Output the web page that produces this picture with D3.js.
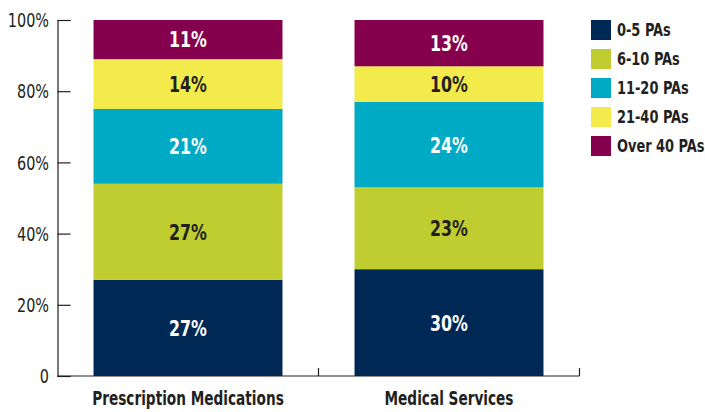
<!DOCTYPE html>
<html>
<head>
<meta charset="utf-8">
<script src="https://cdn.jsdelivr.net/npm/d3@7"></script>
<style>
  body { margin: 0; background: #fff; }
  text { font-family: "DejaVu Sans Condensed", "DejaVu Sans", sans-serif; }
</style>
</head>
<body>
<div id="chart"></div>
<script>
const categories = ['Prescription Medications', 'Medical Services']
const seriesNames = ['0-5 PAs', '6-10 PAs', '11-20 PAs', '21-40 PAs', 'Over 40 PAs']
const prescription = [27, 27, 21, 14, 11]
const medical = [30, 23, 24, 10, 13]
const yTicks = [0, 20, 40, 60, 80, 100]

const colors = ['#002855', '#bfcd31', '#00a9c4', '#f3eb4b', '#85004d']
const labelColors = ['#fff', '#231f20', '#fff', '#231f20', '#fff']

const width = 705
const height = 412
// squeeze text horizontally to mimic a condensed face
const squeeze = 0.8

const svg = d3
  .select('#chart')
  .append('svg')
  .attr('width', width)
  .attr('height', height)

const xScale = d3
  .scaleBand()
  .domain(categories)
  .range([57.5, 579.5])
  .paddingInner(0.276)
  .paddingOuter(0.138)

const yScale = d3
  .scaleLinear()
  .domain([0, 100])
  .range([376, 20])

const rows = categories.map((c, i) => {
  const row = { category: c }
  const vals = i === 0 ? prescription : medical
  seriesNames.forEach((s, j) => { row[s] = vals[j] })
  return row
})

const stacked = d3.stack().keys(seriesNames)(rows)

const layers = svg
  .selectAll('.layer')
  .data(stacked)
  .enter()
  .append('g')
  .attr('class', 'layer')
  .attr('fill', (d, i) => colors[i])

layers
  .selectAll('rect')
  .data(d => d)
  .enter()
  .append('rect')
  .attr('x', d => xScale(d.data.category))
  .attr('y', d => yScale(d[1]))
  .attr('width', xScale.bandwidth())
  .attr('height', d => yScale(d[0]) - yScale(d[1]))

layers.each(function (layer, i) {
  d3.select(this)
    .selectAll('text')
    .data(layer)
    .enter()
    .append('text')
    .attr('transform', 'scale(' + squeeze + ',1)')
    .attr('x', d => (xScale(d.data.category) + xScale.bandwidth() / 2) / squeeze)
    .attr('y', d => (yScale(d[0]) + yScale(d[1])) / 2)
    .attr('dy', '0.36em')
    .attr('text-anchor', 'middle')
    .attr('font-size', 22)
    .attr('font-weight', 'bold')
    .attr('fill', labelColors[i])
    .text(d => (d[1] - d[0]) + '%')
})

// y axis, ticks point inward
const yAxis = d3
  .axisRight(yScale)
  .tickValues(yTicks)
  .tickSize(13)
  .tickFormat('')

svg
  .append('g')
  .attr('class', 'axis y-axis')
  .attr('transform', 'translate(57.5,0)')
  .call(yAxis)

svg.selectAll('.y-axis path, .y-axis line')
  .attr('stroke', '#231f20')
  .attr('stroke-width', 1.2)

svg
  .selectAll('.y-label')
  .data(yTicks)
  .enter()
  .append('text')
  .attr('class', 'y-label')
  .attr('transform', 'scale(' + squeeze + ',1)')
  .attr('x', 49 / squeeze)
  .attr('y', d => yScale(d))
  .attr('dy', '0.36em')
  .attr('text-anchor', 'end')
  .attr('font-size', 20)
  .attr('fill', '#231f20')
  .text(d => d === 0 ? '0' : d + '%')

// x axis line with separator ticks
const xEdges = [
  (xScale(categories[0]) + xScale.bandwidth() + xScale(categories[1])) / 2,
  xScale.range()[1]
]

svg
  .append('line')
  .attr('x1', xScale.range()[0])
  .attr('x2', xScale.range()[1])
  .attr('y1', yScale(0))
  .attr('y2', yScale(0))
  .attr('stroke', '#231f20')
  .attr('stroke-width', 1.2)

svg
  .selectAll('.x-tick')
  .data(xEdges)
  .enter()
  .append('line')
  .attr('class', 'x-tick')
  .attr('x1', d => d)
  .attr('x2', d => d)
  .attr('y1', yScale(0))
  .attr('y2', yScale(0) - 8)
  .attr('stroke', '#231f20')
  .attr('stroke-width', 1.2)

svg
  .selectAll('.x-label')
  .data(categories)
  .enter()
  .append('text')
  .attr('class', 'x-label')
  .attr('transform', 'scale(' + squeeze + ',1)')
  .attr('x', d => (xScale(d) + xScale.bandwidth() / 2) / squeeze)
  .attr('y', 405)
  .attr('text-anchor', 'middle')
  .attr('font-size', 19)
  .attr('font-weight', 'bold')
  .attr('fill', '#231f20')
  .text(d => d)

// legend
const legend = svg
  .selectAll('.legend')
  .data(seriesNames)
  .enter()
  .append('g')
  .attr('class', 'legend')
  .attr('transform', (d, i) => 'translate(591,' + (20 + i * 29) + ')')

legend
  .append('rect')
  .attr('width', 20)
  .attr('height', 20)
  .attr('fill', (d, i) => colors[i])

legend
  .append('text')
  .attr('transform', 'scale(' + squeeze + ',1)')
  .attr('x', 26 / squeeze)
  .attr('y', 10)
  .attr('dy', '0.36em')
  .attr('font-size', 18)
  .attr('font-weight', 'bold')
  .attr('fill', '#231f20')
  .text(d => d)
</script>
</body>
</html>
